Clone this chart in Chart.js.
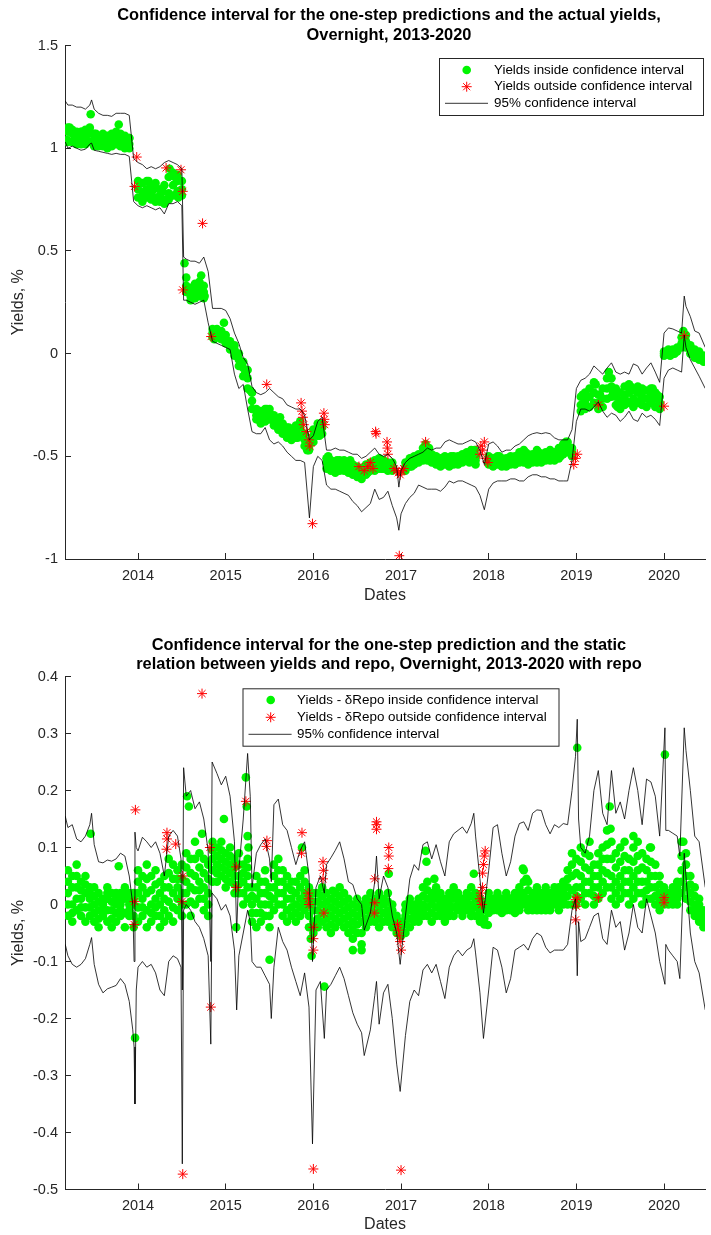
<!DOCTYPE html>
<html>
<head>
<meta charset="utf-8">
<script src="https://cdn.jsdelivr.net/npm/chart.js@4.4.1/dist/chart.umd.min.js"></script>
<style>
  body { margin: 0; background: #fff; width: 711px; height: 1235px; overflow: hidden; }
  canvas { position: absolute; left: 0; }
</style>
</head>
<body>
<canvas id="topChart" width="711" height="615" style="top:0"></canvas>
<canvas id="bottomChart" width="711" height="620" style="top:615px"></canvas>
<script>
// ---- shared x grid (decimal years) for the yield markers ----
const gridYears = [
  2013.20, 2013.25, 2013.30, 2013.35, 2013.40, 2013.45, 2013.50, 2013.55, 2013.60, 2013.65, 2013.70, 2013.75, 2013.80, 2013.85, 2013.90, 2013.95,
  2014.00, 2014.05, 2014.10, 2014.15, 2014.20, 2014.25, 2014.30, 2014.35, 2014.40, 2014.45, 2014.50, 2014.55, 2014.60, 2014.65, 2014.70, 2014.75, 2014.80, 2014.85, 2014.90, 2014.95,
  2015.00, 2015.05, 2015.10, 2015.15, 2015.20, 2015.25, 2015.30, 2015.35, 2015.40, 2015.45, 2015.50, 2015.55, 2015.60, 2015.65, 2015.70, 2015.75, 2015.80, 2015.85, 2015.90, 2015.95,
  2016.00, 2016.05, 2016.10, 2016.15, 2016.20, 2016.25, 2016.30, 2016.35, 2016.40, 2016.45, 2016.50, 2016.55, 2016.60, 2016.65, 2016.70, 2016.75, 2016.80, 2016.85, 2016.90, 2016.95,
  2017.00, 2017.05, 2017.10, 2017.15, 2017.20, 2017.25, 2017.30, 2017.35, 2017.40, 2017.45, 2017.50, 2017.55, 2017.60, 2017.65, 2017.70, 2017.75, 2017.80, 2017.85, 2017.90, 2017.95,
  2018.00, 2018.05, 2018.10, 2018.15, 2018.20, 2018.25, 2018.30, 2018.35, 2018.40, 2018.45, 2018.50, 2018.55, 2018.60, 2018.65, 2018.70, 2018.75, 2018.80, 2018.85, 2018.90, 2018.95,
  2019.00, 2019.05, 2019.10, 2019.15, 2019.20, 2019.25, 2019.30, 2019.35, 2019.40, 2019.45, 2019.50, 2019.55, 2019.60, 2019.65, 2019.70, 2019.75, 2019.80, 2019.85, 2019.90, 2019.95,
  2020.00, 2020.05, 2020.10, 2020.15, 2020.20, 2020.25, 2020.30, 2020.35, 2020.40, 2020.45
];
const yearTicks = [2014, 2015, 2016, 2017, 2018, 2019, 2020];

// ---- top chart: actual yields (three rows of dots give the band its width) ----
const insideTop = [
  1.08, 1.07, 1.06, 1.05, 1.06, 1.07, 1.04, 1.03, 1.04, 1.03, 1.04, 1.05, 1.04, 1.03, 1.02, null,
  0.80, 0.77, 0.80, 0.78, 0.76, 0.77, 0.75, 0.78, 0.82, 0.84, 0.80, 0.33, 0.28, 0.30, 0.31, 0.30, null, 0.10, 0.11, 0.09,
  0.07, 0.04, 0.02, -0.03, -0.07, -0.12, -0.23, -0.30, -0.32, -0.30, -0.29, -0.33, -0.35, -0.37, -0.39, -0.40, -0.38, -0.36, -0.42, -0.46,
  -0.40, -0.37, -0.36, -0.53, -0.55, -0.55, -0.55, -0.54, -0.55, -0.57, -0.58, -0.59, -0.56, -0.55, -0.55, -0.53, -0.54, -0.55, -0.55, null,
  null, -0.55, -0.53, -0.52, -0.51, -0.49, -0.50, -0.51, -0.52, -0.53, -0.52, -0.53, -0.52, -0.52, -0.51, -0.50, -0.49, -0.52, null, null,
  -0.52, -0.53, -0.52, -0.53, -0.53, -0.52, -0.52, -0.51, -0.50, -0.52, -0.51, -0.50, -0.51, -0.50, -0.49, -0.50, -0.48, -0.46, -0.45, -0.48,
  null, -0.25, -0.23, -0.21, -0.19, -0.24, -0.22, -0.17, -0.16, -0.21, -0.23, -0.20, -0.19, -0.22, -0.19, -0.21, -0.22, -0.20, -0.22, -0.24,
  0.00, 0.01, 0.01, 0.02, 0.05, 0.06, 0.02, 0.00, -0.01, -0.03
];
const insideHighTop = [
  1.10, 1.09, 1.08, 1.08, 1.09, 1.10, 1.07, 1.06, 1.07, 1.06, 1.07, 1.08, 1.07, 1.06, 1.05, null,
  0.84, 0.83, 0.84, 0.82, 0.83, 0.80, 0.82, 0.86, 0.88, 0.87, 0.84, 0.37, 0.32, 0.34, 0.35, 0.33, null, 0.12, 0.12, 0.11,
  0.09, 0.06, 0.04, 0.00, -0.04, -0.08, -0.19, -0.27, -0.28, -0.27, -0.27, -0.30, -0.32, -0.34, -0.36, -0.37, -0.35, -0.33, -0.39, -0.43,
  -0.37, -0.34, -0.34, -0.51, -0.52, -0.53, -0.52, -0.52, -0.53, -0.54, -0.55, -0.56, -0.54, -0.53, -0.52, -0.51, -0.52, -0.53, -0.53, null,
  null, -0.53, -0.51, -0.50, -0.49, -0.46, -0.48, -0.49, -0.50, -0.51, -0.50, -0.51, -0.50, -0.50, -0.49, -0.48, -0.47, -0.50, null, null,
  -0.50, -0.51, -0.50, -0.51, -0.51, -0.50, -0.50, -0.48, -0.47, -0.49, -0.49, -0.47, -0.49, -0.48, -0.47, -0.48, -0.46, -0.44, -0.43, -0.46,
  null, -0.21, -0.19, -0.17, -0.14, -0.20, -0.17, -0.12, -0.12, -0.17, -0.19, -0.16, -0.15, -0.18, -0.16, -0.17, -0.18, -0.17, -0.19, -0.21,
  0.01, 0.02, 0.02, 0.03, 0.08, 0.09, 0.04, 0.02, 0.01, -0.01
];
const insideLowTop = [
  1.03, 1.03, 1.02, 1.02, 1.02, 1.03, 1.01, 1.01, 1.01, 1.00, 1.01, 1.02, 1.01, 1.00, 1.00, null,
  0.76, 0.74, 0.76, 0.75, 0.74, 0.74, 0.73, 0.75, 0.77, 0.79, 0.77, 0.30, 0.26, 0.27, 0.28, 0.27, null, 0.08, 0.09, 0.07,
  0.05, 0.02, -0.01, -0.06, -0.11, -0.17, -0.27, -0.32, -0.34, -0.33, -0.32, -0.35, -0.37, -0.39, -0.41, -0.42, -0.41, -0.40, -0.45, -0.47,
  -0.43, -0.40, -0.39, -0.56, -0.57, -0.58, -0.57, -0.57, -0.58, -0.59, -0.60, -0.61, -0.59, -0.57, -0.57, -0.56, -0.56, -0.57, -0.57, null,
  null, -0.57, -0.55, -0.54, -0.53, -0.52, -0.52, -0.53, -0.54, -0.55, -0.54, -0.55, -0.54, -0.54, -0.53, -0.52, -0.52, -0.54, null, null,
  -0.54, -0.55, -0.54, -0.55, -0.55, -0.54, -0.54, -0.53, -0.53, -0.54, -0.53, -0.53, -0.53, -0.52, -0.52, -0.52, -0.51, -0.49, -0.48, -0.50,
  null, -0.28, -0.27, -0.26, -0.24, -0.27, -0.26, -0.22, -0.21, -0.25, -0.27, -0.25, -0.24, -0.26, -0.24, -0.25, -0.26, -0.24, -0.26, -0.27,
  -0.01, 0.00, 0.00, 0.01, 0.03, 0.03, 0.00, -0.02, -0.03, -0.04
];
const extraYearsTop = [2013.19, 2013.22, 2013.28, 2013.36, 2013.46, 2013.52, 2013.62, 2013.72, 2013.78, 2013.82, 2013.90,
  2014.03, 2014.08, 2014.12, 2014.18, 2014.28, 2014.36, 2014.42, 2014.46, 2014.53, 2014.58, 2014.68, 2014.72, 2014.76, 2014.87, 2014.98,
  2015.12, 2015.22, 2015.28, 2015.38, 2015.47, 2015.52, 2015.62, 2015.72, 2015.82, 2015.93,
  2016.07, 2016.17, 2016.27, 2016.42, 2016.52, 2016.62, 2016.78, 2017.12, 2017.28, 2017.32, 2017.57, 2017.78, 2017.84,
  2018.12, 2018.42, 2018.57, 2018.72, 2018.82, 2018.88, 2018.93,
  2019.07, 2019.12, 2019.22, 2019.27, 2019.37, 2019.42, 2019.47, 2019.57, 2019.62, 2019.72, 2019.77, 2019.87, 2019.92,
  2020.07, 2020.12, 2020.22, 2020.27, 2020.37, 2020.42];
const extraTop = [1.04, 1.10, 1.05, 1.08, 1.165, 1.07, 1.06, 1.02, 1.115, 1.06, 1.05,
  0.83, 0.79, 0.84, 0.80, 0.79, 0.90, 0.86, 0.76, 0.44, 0.31, 0.33, 0.38, 0.28, 0.07, 0.15,
  0.00, -0.10, -0.18, -0.28, -0.27, -0.32, -0.31, -0.36, -0.41, -0.47,
  -0.40, -0.50, -0.52, -0.52, -0.60, -0.58, -0.56, -0.55, -0.44, -0.46, -0.50, -0.53, -0.47,
  -0.50, -0.48, -0.48, -0.51, -0.50, -0.43, -0.46,
  -0.20, -0.26, -0.15, -0.20, -0.09, -0.19, -0.26, -0.23, -0.16, -0.23, -0.18, -0.17, -0.20,
  -0.01, 0.00, 0.11, 0.04, -0.02, -0.02];
const outsideYearsTop = [2013.985, 2013.96, 2014.32, 2014.49, 2014.51, 2014.51, 2014.736, 2014.834, 2015.468,
  2015.86, 2015.87, 2015.88, 2015.89, 2015.92, 2015.95, 2015.96, 2015.99, 2016.12, 2016.125, 2016.13,
  2016.52, 2016.58, 2016.62, 2016.65, 2016.68, 2016.71, 2016.715, 2016.84, 2016.845, 2016.85,
  2016.92, 2016.95, 2016.97, 2016.99, 2017.01, 2017.03, 2016.98, 2017.28,
  2017.90, 2017.91, 2017.93, 2017.95, 2017.97, 2017.99, 2018.97, 2018.99, 2019.01, 2019.25, 2020.00, 2020.23];
const outsideTop = [0.957, 0.814, 0.904, 0.895, 0.79, 0.31, 0.634, 0.083, -0.15,
  -0.24, -0.28, -0.31, -0.346, -0.38, -0.42, -0.45, -0.828, -0.29, -0.32, -0.346,
  -0.55, -0.57, -0.55, -0.53, -0.56, -0.38, -0.39, -0.43, -0.46, -0.49,
  -0.56, -0.57, -0.58, -0.59, -0.57, -0.56, -0.984, -0.43,
  -0.49, -0.45, -0.47, -0.43, -0.51, -0.53, -0.54, -0.51, -0.49, -0.25, -0.256, 0.087];
const bandYearsTop = [
  2013.17, 2013.20, 2013.25, 2013.30, 2013.35, 2013.40, 2013.45, 2013.47, 2013.50, 2013.55, 2013.60, 2013.65, 2013.70, 2013.75, 2013.80, 2013.85, 2013.90, 2013.95,
  2014.00, 2014.05, 2014.10, 2014.15, 2014.20, 2014.25, 2014.30, 2014.35, 2014.40, 2014.45, 2014.50, 2014.52, 2014.55, 2014.60, 2014.65, 2014.70, 2014.75, 2014.80, 2014.85, 2014.90, 2014.95,
  2015.00, 2015.05, 2015.10, 2015.15, 2015.20, 2015.25, 2015.30, 2015.35, 2015.40, 2015.45, 2015.50, 2015.55, 2015.60, 2015.65, 2015.70, 2015.75, 2015.80, 2015.85, 2015.90, 2015.955,
  2016.00, 2016.05, 2016.10, 2016.15, 2016.20, 2016.25, 2016.30, 2016.35, 2016.40, 2016.45, 2016.50, 2016.55, 2016.60, 2016.65, 2016.70, 2016.75, 2016.80, 2016.85, 2016.90, 2016.95, 2016.975,
  2017.00, 2017.05, 2017.10, 2017.15, 2017.20, 2017.25, 2017.30, 2017.35, 2017.40, 2017.45, 2017.50, 2017.55, 2017.60, 2017.65, 2017.70, 2017.75, 2017.80, 2017.85, 2017.90, 2017.95,
  2018.00, 2018.05, 2018.10, 2018.15, 2018.20, 2018.25, 2018.30, 2018.35, 2018.40, 2018.45, 2018.50, 2018.55, 2018.60, 2018.65, 2018.70, 2018.75, 2018.80, 2018.85, 2018.90, 2018.95,
  2019.00, 2019.05, 2019.10, 2019.15, 2019.20, 2019.25, 2019.30, 2019.35, 2019.40, 2019.45, 2019.50, 2019.55, 2019.60, 2019.65, 2019.70, 2019.75, 2019.80, 2019.85, 2019.90, 2019.95,
  2020.00, 2020.05, 2020.10, 2020.15, 2020.20, 2020.23, 2020.25, 2020.30, 2020.35, 2020.40, 2020.47
];
const upperTop = [
  1.23, 1.21, 1.21, 1.20, 1.20, 1.19, 1.21, 1.235, 1.19, 1.17, 1.16, 1.16, 1.155, 1.17, 1.17, 1.17, 1.16, 0.95,
  0.93, 0.92, 0.90, 0.91, 0.90, 0.91, 0.93, 0.94, 0.93, 0.92, 0.90, 0.47, 0.46, 0.45, 0.45, 0.44, 0.47, 0.40, 0.22, 0.22, 0.22,
  0.21, 0.17, 0.10, 0.05, -0.02, -0.05, -0.16, -0.19, -0.20, -0.19, -0.17, -0.19, -0.21, -0.22, -0.25, -0.26, -0.27, -0.27, -0.30, -0.42,
  -0.40, -0.33, -0.31, -0.47, -0.47, -0.46, -0.47, -0.47, -0.48, -0.49, -0.49, -0.51, -0.50, -0.48, -0.46, -0.49, -0.50, -0.49, -0.51, -0.55, -0.65,
  -0.57, -0.53, -0.51, -0.50, -0.49, -0.48, -0.46, -0.47, -0.46, -0.46, -0.43, -0.42, -0.43, -0.44, -0.44, -0.43, -0.42, -0.43, -0.47, -0.54,
  -0.44, -0.43, -0.45, -0.48, -0.47, -0.47, -0.45, -0.44, -0.42, -0.40, -0.39, -0.385, -0.39, -0.385, -0.39, -0.41, -0.42, -0.42, -0.42, -0.37,
  -0.17, -0.13, -0.12, -0.10, -0.06, -0.08, -0.10, -0.07, -0.045, -0.09, -0.10, -0.09, -0.10, -0.05, -0.06, -0.10, -0.07, -0.045, -0.09, -0.14,
  0.10, 0.125, 0.12, 0.11, 0.10, 0.28, 0.23, 0.18, 0.11, 0.10, 0.03
];
const lowerTop = [
  1.03, 1.00, 1.01, 1.00, 0.99, 0.995, 1.02, 1.025, 0.99, 0.985, 0.98, 0.975, 0.97, 0.975, 0.97, 0.97, 0.96, 0.74,
  0.72, 0.71, 0.72, 0.71, 0.70, 0.71, 0.68, 0.73, 0.73, 0.74, 0.72, 0.26, 0.26, 0.25, 0.24, 0.25, 0.26, 0.15, 0.06, 0.05, 0.04,
  0.03, 0.02, -0.10, -0.17, -0.15, -0.27, -0.38, -0.39, -0.39, -0.36, -0.42, -0.44, -0.43, -0.45, -0.48, -0.50, -0.52, -0.52, -0.53, -0.80,
  -0.55, -0.50, -0.52, -0.64, -0.66, -0.66, -0.67, -0.68, -0.69, -0.72, -0.74, -0.77, -0.75, -0.73, -0.66, -0.71, -0.70, -0.67, -0.74, -0.80, -0.86,
  -0.78, -0.73, -0.70, -0.68, -0.64, -0.65, -0.66, -0.66, -0.66, -0.67, -0.65, -0.62, -0.63, -0.62, -0.62, -0.63, -0.64, -0.65, -0.69, -0.76,
  -0.66, -0.63, -0.62, -0.62, -0.62, -0.61, -0.61, -0.62, -0.62, -0.60, -0.59, -0.59, -0.60, -0.60, -0.61, -0.61, -0.62, -0.62, -0.62, -0.52,
  -0.33, -0.27, -0.27, -0.28, -0.26, -0.235, -0.28, -0.31, -0.29, -0.30, -0.33, -0.31, -0.28, -0.32, -0.33, -0.29, -0.31, -0.30, -0.32, -0.35,
  -0.12, -0.08, -0.07, -0.08, -0.09, 0.09, 0.03, -0.03, -0.07, -0.11, -0.17
];

// ---- bottom chart: yields minus delta repo (five rows of dots make the cloud) ----
const insideHighBottom = [
  0.06, 0.05, 0.07, 0.04, 0.05, 0.03, 0.03, 0.02, 0.01, 0.03, 0.02, 0.02, 0.02, 0.03, 0.02, 0.02,
  0.06, 0.05, 0.07, 0.05, 0.06, 0.04, 0.05, 0.08, 0.07, 0.06, 0.07, 0.09, 0.08, 0.11, 0.09, 0.08, 0.07, 0.11, 0.10, 0.11,
  0.09, 0.10, 0.08, 0.09, 0.07, 0.08, 0.03, 0.05, 0.04, 0.06, 0.03, 0.07, 0.08, 0.06, 0.05, 0.04, 0.04, 0.05, 0.06, 0.03,
  0.02, 0.02, 0.03, 0.02, 0.01, 0.02, 0.03, 0.02, 0.01, 0.00, 0.01, 0.00, 0.01, 0.02, 0.01, 0.02, 0.01, 0.02, 0.00, -0.02,
  -0.03, 0.00, 0.01, 0.00, 0.01, 0.03, 0.04, 0.02, 0.03, 0.02, 0.01, 0.02, 0.03, 0.02, 0.01, 0.02, 0.03, 0.02, 0.01, 0.00,
  0.02, 0.01, 0.02, 0.01, 0.02, 0.01, 0.02, 0.03, 0.06, 0.04, 0.02, 0.03, 0.02, 0.03, 0.02, 0.03, 0.03, 0.04, 0.06, 0.09,
  0.08, 0.10, 0.09, 0.11, 0.07, 0.09, 0.10, 0.13, 0.11, 0.09, 0.10, 0.11, 0.08, 0.10, 0.11, 0.09, 0.08, 0.10, 0.07, 0.05,
  0.03, 0.02, 0.03, 0.04, 0.11, 0.09, 0.05, 0.03, 0.01, -0.01
];
const insideUpperBottom = [
  0.04, 0.03, 0.05, 0.025, 0.035, 0.02, 0.015, 0.005, 0.005, 0.02, 0.005, 0.01, 0.01, 0.02, 0.01, 0.01,
  0.04, 0.03, 0.045, 0.025, 0.035, 0.02, 0.03, 0.055, 0.045, 0.045, 0.045, 0.065, 0.055, 0.08, 0.065, 0.055, 0.045, 0.095, 0.085, 0.095,
  0.075, 0.085, 0.065, 0.07, 0.055, 0.065, 0.015, 0.03, 0.02, 0.04, 0.015, 0.05, 0.06, 0.04, 0.03, 0.025, 0.02, 0.03, 0.04, 0.015,
  0.005, 0.005, 0.015, 0.005, -0.005, 0.005, 0.015, 0.005, -0.005, -0.015, -0.005, -0.015, 0.0, 0.005, 0.005, 0.005, 0.005, 0.005, -0.01, -0.028,
  -0.038, -0.01, 0.0, -0.01, 0.0, 0.015, 0.025, 0.01, 0.02, 0.01, 0.0, 0.01, 0.02, 0.01, 0.005, 0.015, 0.015, 0.015, 0.0, -0.005,
  0.01, 0.005, 0.015, 0.005, 0.01, 0.01, 0.01, 0.02, 0.04, 0.025, 0.01, 0.02, 0.01, 0.02, 0.01, 0.02, 0.02, 0.03, 0.045, 0.07,
  0.055, 0.075, 0.065, 0.085, 0.05, 0.07, 0.08, 0.105, 0.08, 0.065, 0.075, 0.085, 0.06, 0.075, 0.085, 0.065, 0.06, 0.075, 0.05, 0.035,
  0.02, 0.015, 0.02, 0.03, 0.085, 0.07, 0.035, 0.015, 0.0, -0.02
];
const insideMidBottom = [
  0.02, 0.00, 0.03, 0.01, 0.02, 0.01, 0.00, -0.01, 0.00, 0.01, -0.01, 0.00, 0.00, 0.01, 0.00, 0.00,
  0.02, 0.01, 0.02, 0.00, 0.01, 0.00, 0.01, 0.03, 0.02, 0.03, 0.02, 0.04, 0.03, 0.05, 0.04, 0.03, 0.02, 0.08, 0.07, 0.08,
  0.06, 0.07, 0.05, 0.05, 0.04, 0.05, 0.00, 0.01, 0.00, 0.02, 0.00, 0.03, 0.04, 0.02, 0.01, 0.01, 0.00, 0.01, 0.02, 0.00,
  -0.01, -0.01, 0.00, -0.01, -0.02, -0.01, 0.00, -0.01, -0.02, -0.03, -0.02, -0.03, -0.01, -0.01, 0.00, -0.01, 0.00, -0.01, -0.02, -0.035,
  -0.045, -0.02, -0.01, -0.02, -0.01, 0.00, 0.01, 0.00, 0.01, 0.00, -0.01, 0.00, 0.01, 0.00, 0.00, 0.01, 0.00, 0.01, -0.01, -0.01,
  0.00, 0.00, 0.01, 0.00, 0.00, 0.01, 0.00, 0.01, 0.02, 0.01, 0.00, 0.01, 0.00, 0.01, 0.00, 0.01, 0.01, 0.02, 0.03, 0.05,
  0.03, 0.05, 0.04, 0.06, 0.03, 0.05, 0.06, 0.08, 0.05, 0.04, 0.05, 0.06, 0.04, 0.05, 0.06, 0.04, 0.04, 0.05, 0.03, 0.02,
  0.01, 0.01, 0.01, 0.02, 0.06, 0.05, 0.02, 0.00, -0.01, -0.03
];
const insideLowerBottom = [
  0.0, -0.015, 0.01, -0.005, -0.005, -0.005, -0.015, -0.025, -0.01, -0.01, -0.025, -0.015, -0.01, -0.015, -0.01, -0.02,
  -0.005, -0.005, -0.01, -0.015, -0.005, -0.02, -0.01, 0.005, -0.005, 0.01, 0.0, 0.02, 0.005, 0.025, 0.025, 0.01, 0.0, 0.06, 0.055, 0.065,
  0.045, 0.055, 0.035, 0.035, 0.02, 0.03, -0.015, -0.015, -0.015, 0.0, -0.02, 0.01, 0.02, 0.0, -0.01, -0.005, -0.015, -0.005, 0.005, -0.02,
  -0.03, -0.025, -0.015, -0.025, -0.035, -0.025, -0.015, -0.025, -0.035, -0.045, -0.035, -0.05, -0.025, -0.02, -0.015, -0.025, -0.015, -0.02, -0.03, -0.042,
  -0.05, -0.035, -0.025, -0.025, -0.02, -0.01, -0.005, -0.015, -0.005, -0.01, -0.02, -0.01, -0.005, -0.005, -0.01, 0.0, -0.01, -0.005, -0.02, -0.025,
  -0.008, -0.005, 0.0, -0.008, -0.005, 0.0, -0.008, 0.0, 0.01, 0.0, -0.005, 0.0, -0.005, 0.0, -0.005, 0.005, 0.0, 0.01, 0.015, 0.025,
  0.015, 0.03, 0.02, 0.04, 0.015, 0.03, 0.04, 0.055, 0.03, 0.02, 0.03, 0.04, 0.02, 0.03, 0.04, 0.02, 0.025, 0.03, 0.015, 0.005,
  0.005, 0.005, 0.005, 0.01, 0.04, 0.03, 0.005, -0.01, -0.02, -0.035
];
const insideLowBottom = [
  -0.02, -0.03, -0.01, -0.02, -0.03, -0.02, -0.03, -0.04, -0.02, -0.03, -0.04, -0.03, -0.02, -0.04, -0.02, -0.04,
  -0.03, -0.02, -0.04, -0.03, -0.02, -0.04, -0.03, -0.02, -0.03, -0.01, -0.02, 0.00, -0.02, 0.00, 0.01, -0.01, -0.02, 0.04, 0.04, 0.05,
  0.03, 0.04, 0.02, 0.02, 0.00, 0.01, -0.03, -0.04, -0.03, -0.02, -0.04, -0.01, 0.00, -0.02, -0.03, -0.02, -0.03, -0.02, -0.01, -0.04,
  -0.05, -0.04, -0.03, -0.04, -0.05, -0.04, -0.03, -0.04, -0.05, -0.06, -0.05, -0.07, -0.04, -0.03, -0.03, -0.04, -0.03, -0.03, -0.04, -0.05,
  -0.055, -0.05, -0.04, -0.03, -0.03, -0.02, -0.02, -0.03, -0.02, -0.02, -0.03, -0.02, -0.02, -0.01, -0.02, -0.01, -0.02, -0.02, -0.03, -0.035,
  -0.015, -0.01, -0.01, -0.015, -0.01, -0.01, -0.015, -0.01, 0.00, -0.01, -0.01, -0.01, -0.01, -0.01, -0.01, 0.00, -0.01, 0.00, 0.00, 0.00,
  0.00, 0.01, 0.00, 0.02, 0.00, 0.01, 0.02, 0.03, 0.01, 0.00, 0.01, 0.02, 0.00, 0.01, 0.02, 0.00, 0.01, 0.01, 0.00, -0.01,
  0.00, 0.00, 0.00, 0.00, 0.02, 0.01, -0.01, -0.02, -0.03, -0.04
];
const extraYearsBottom = [2013.46, 2013.78, 2013.966, 2014.56, 2014.58, 2014.73, 2014.98, 2015.23, 2015.24, 2015.25, 2015.26,
  2015.12, 2015.50, 2015.87, 2015.97, 2015.98, 2016.125, 2016.22, 2016.45, 2016.55, 2016.86, 2017.28, 2017.29, 2017.38,
  2017.83, 2017.99, 2018.39, 2018.43, 2019.01, 2019.38, 2019.39, 2019.65, 2019.84, 2020.01, 2020.22];
const extraBottom = [0.124, 0.067, -0.234, 0.19, 0.172, 0.124, 0.15, 0.223, 0.172, 0.12, 0.10,
  -0.04, -0.097, 0.10, -0.06, -0.09, -0.144, 0.024, -0.08, -0.08, 0.054, 0.094, 0.075, 0.045,
  0.054, -0.036, 0.063, 0.045, 0.275, 0.172, 0.133, 0.12, 0.10, 0.263, 0.11];
const outsideYearsBottom = [2013.97, 2013.96, 2013.955, 2014.33, 2014.33, 2014.325, 2014.43, 2014.50, 2014.51, 2014.51,
  2014.73, 2014.82, 2014.83, 2015.12, 2015.12, 2015.23, 2015.47, 2015.465, 2015.87, 2015.865,
  2015.94, 2015.945, 2015.95, 2016.00, 2016.00, 2016.00, 2016.00, 2016.11, 2016.115, 2016.11, 2016.12,
  2016.70, 2016.70, 2016.695, 2016.72, 2016.72, 2016.72, 2016.86, 2016.86, 2016.855,
  2016.96, 2016.97, 2016.98, 2016.99, 2017.00, 2017.00,
  2017.90, 2017.91, 2017.92, 2017.93, 2017.94, 2017.95, 2017.96, 2017.93,
  2018.99, 2019.00, 2018.99, 2019.01, 2019.25, 2020.00, 2020.00];
const outsideBottom = [0.166, 0.005, -0.035, 0.126, 0.115, 0.097, 0.106, 0.005, 0.05, -0.473,
  0.37, 0.10, -0.18, 0.066, 0.03, 0.181, 0.112, 0.102, 0.126, 0.09,
  0.02, 0.01, 0.00, -0.04, -0.06, -0.08, -0.464, 0.075, 0.06, 0.045, -0.015,
  0.045, 0.003, -0.015, 0.145, 0.14, 0.132, 0.10, 0.085, 0.063,
  -0.035, -0.045, -0.055, -0.065, -0.08, -0.466,
  0.01, 0.02, 0.00, 0.055, 0.07, 0.085, 0.094, 0.03,
  0.009, -0.003, -0.027, 0.012, 0.012, 0.012, 0.003];
const bandYearsBottom = [
  2013.17, 2013.20, 2013.25, 2013.30, 2013.35, 2013.40, 2013.45, 2013.47, 2013.50, 2013.55, 2013.60, 2013.65, 2013.70, 2013.75, 2013.80, 2013.85, 2013.90, 2013.94, 2013.955, 2013.965, 2013.98,
  2014.00, 2014.05, 2014.10, 2014.15, 2014.20, 2014.25, 2014.30, 2014.35, 2014.40, 2014.45, 2014.49, 2014.505, 2014.52, 2014.55, 2014.60, 2014.65, 2014.70, 2014.75, 2014.80, 2014.83, 2014.845, 2014.90, 2014.95,
  2015.00, 2015.05, 2015.10, 2015.125, 2015.15, 2015.20, 2015.25, 2015.28, 2015.30, 2015.35, 2015.40, 2015.45, 2015.50, 2015.52, 2015.55, 2015.60, 2015.65, 2015.70, 2015.75, 2015.80, 2015.85, 2015.90, 2015.95, 2015.99,
  2016.03, 2016.08, 2016.125, 2016.15, 2016.20, 2016.25, 2016.30, 2016.35, 2016.40, 2016.45, 2016.50, 2016.55, 2016.58, 2016.65, 2016.70, 2016.72, 2016.75, 2016.80, 2016.85, 2016.90, 2016.95, 2016.99,
  2017.05, 2017.10, 2017.15, 2017.20, 2017.25, 2017.30, 2017.35, 2017.40, 2017.45, 2017.50, 2017.55, 2017.60, 2017.65, 2017.70, 2017.75, 2017.80, 2017.83, 2017.85, 2017.90, 2017.94,
  2018.00, 2018.05, 2018.10, 2018.15, 2018.20, 2018.25, 2018.30, 2018.35, 2018.40, 2018.45, 2018.50, 2018.55, 2018.60, 2018.65, 2018.70, 2018.75, 2018.80, 2018.85, 2018.90, 2018.95, 2018.99,
  2019.01, 2019.025, 2019.05, 2019.10, 2019.15, 2019.20, 2019.25, 2019.30, 2019.35, 2019.40, 2019.45, 2019.50, 2019.55, 2019.60, 2019.65, 2019.70, 2019.75, 2019.80, 2019.85, 2019.90, 2019.95,
  2020.01, 2020.02, 2020.05, 2020.10, 2020.15, 2020.18, 2020.23, 2020.25, 2020.30, 2020.35, 2020.40, 2020.47
];
const upperBottom = [
  0.155, 0.135, 0.14, 0.115, 0.11, 0.12, 0.14, 0.16, 0.105, 0.075, 0.073, 0.078, 0.076, 0.08, 0.09, 0.085, 0.05, 0.00, -0.10, 0.127, 0.10,
  0.094, 0.118, 0.11, 0.10, 0.11, 0.09, 0.05, 0.12, 0.13, 0.12, 0.08, -0.15, 0.24, 0.19, 0.20, 0.168, 0.18, 0.15, 0.094, -0.10, 0.25, 0.23, 0.21,
  0.225, 0.19, 0.11, -0.05, 0.06, 0.15, 0.265, 0.19, 0.03, 0.09, 0.105, 0.115, 0.08, 0.04, 0.175, 0.185, 0.14, 0.13, 0.10, 0.07, 0.095, 0.11, 0.05, -0.10,
  0.03, 0.05, 0.02, 0.07, 0.082, 0.095, 0.11, 0.08, 0.04, 0.035, 0.01, 0.00, -0.045, -0.015, 0.04, 0.085, 0.01, 0.05, 0.03, -0.02, -0.05, -0.105,
  -0.02, 0.045, 0.07, 0.06, 0.105, 0.11, 0.08, 0.105, 0.075, 0.05, 0.11, 0.124, 0.13, 0.136, 0.125, 0.142, 0.16, 0.12, 0.045, -0.015,
  0.06, 0.135, 0.14, 0.09, 0.05, 0.075, 0.12, 0.142, 0.145, 0.13, 0.16, 0.166, 0.165, 0.14, 0.124, 0.14, 0.135, 0.142, 0.14, 0.20, 0.26,
  0.325, 0.15, 0.10, 0.09, 0.12, 0.20, 0.235, 0.16, 0.14, 0.235, 0.16, 0.18, 0.15, 0.20, 0.24, 0.20, 0.14, 0.22, 0.215, 0.19, 0.12,
  0.31, 0.13, 0.13, 0.125, 0.12, 0.085, 0.31, 0.27, 0.20, 0.12, 0.11, 0.03
];
const lowerBottom = [
  -0.07, -0.09, -0.105, -0.11, -0.105, -0.095, -0.07, -0.058, -0.105, -0.14, -0.155, -0.148, -0.145, -0.142, -0.13, -0.14, -0.17, -0.22, -0.25, -0.35, -0.15,
  -0.11, -0.10, -0.11, -0.105, -0.12, -0.15, -0.16, -0.10, -0.09, -0.095, -0.11, -0.455, -0.01, 0.00, -0.01, -0.03, -0.04, -0.06, -0.09, -0.245, 0.02, 0.01, -0.01,
  0.00, -0.02, -0.08, -0.185, -0.09, -0.05, -0.01, -0.03, -0.10, -0.11, -0.11, -0.125, -0.14, -0.20, -0.11, -0.04, -0.065, -0.08, -0.11, -0.135, -0.16, -0.12, -0.18, -0.42,
  -0.15, -0.135, -0.235, -0.15, -0.14, -0.125, -0.11, -0.13, -0.16, -0.19, -0.21, -0.225, -0.265, -0.22, -0.16, -0.135, -0.21, -0.155, -0.14, -0.20, -0.28, -0.328,
  -0.23, -0.17, -0.15, -0.16, -0.115, -0.105, -0.12, -0.105, -0.135, -0.165, -0.11, -0.09, -0.08, -0.09, -0.08, -0.075, -0.06, -0.085, -0.155, -0.235,
  -0.15, -0.075, -0.08, -0.11, -0.155, -0.13, -0.08, -0.075, -0.07, -0.08, -0.06, -0.05, -0.055, -0.075, -0.085, -0.08, -0.08, -0.08, -0.07, -0.01, 0.01,
  -0.125, -0.03, -0.065, -0.06, -0.04, -0.02, -0.015, -0.06, -0.07, -0.01, -0.04, -0.03, -0.08, -0.05, 0.00, -0.04, -0.05, 0.01, -0.02, -0.05, -0.10,
  -0.14, -0.07, -0.08, -0.09, -0.10, -0.13, 0.09, 0.05, -0.05, -0.10, -0.12, -0.185
];

const FONT = "'Liberation Sans', Arial, Helvetica, sans-serif";
const AXIS = '#262626';
const GREEN = 'rgb(0,245,0)';
const RED = '#ff0000';

const toPoints = (xs, ys) => xs.map((x, i) => ({ x: x, y: ys[i] }));

// titles, axis names and the boxed legend, drawn at the spots MATLAB put them
function decor(cfg) {
  return {
    id: 'decor',
    afterDraw(chart) {
      const ctx = chart.ctx, a = chart.chartArea;
      ctx.save();
      ctx.textAlign = 'center';
      ctx.textBaseline = 'middle';
      ctx.fillStyle = '#000';
      ctx.font = 'bold 16.4px ' + FONT;
      cfg.title.forEach((t, i) => ctx.fillText(t, cfg.titleX, cfg.titleY[i]));
      ctx.fillStyle = AXIS;
      ctx.font = '16px ' + FONT;
      ctx.fillText('Dates', (a.left + a.right) / 2, cfg.datesY);
      ctx.translate(19, (a.top + a.bottom) / 2);
      ctx.rotate(-Math.PI / 2);
      ctx.fillText('Yields, %', 0, 0);
      ctx.restore();

      const L = cfg.legend;
      ctx.save();
      ctx.fillStyle = '#fff';
      ctx.fillRect(L.x, L.y, L.w, L.h);
      ctx.strokeStyle = AXIS;
      ctx.lineWidth = 1;
      ctx.strokeRect(L.x + 0.5, L.y + 0.5, L.w, L.h);
      ctx.fillStyle = GREEN;
      ctx.beginPath();
      ctx.arc(L.markX, L.rows[0], 4.3, 0, Math.PI * 2);
      ctx.fill();
      ctx.strokeStyle = RED;
      Chart.helpers.drawPoint(ctx, { pointStyle: 'star', radius: 5, borderWidth: 1, rotation: 0 }, L.markX, L.rows[1]);
      ctx.strokeStyle = '#000';
      ctx.lineWidth = 0.8;
      ctx.beginPath();
      ctx.moveTo(L.lineX0, L.rows[2]);
      ctx.lineTo(L.lineX1, L.rows[2]);
      ctx.stroke();
      ctx.fillStyle = '#000';
      ctx.font = '13.4px ' + FONT;
      ctx.textAlign = 'left';
      ctx.textBaseline = 'middle';
      L.labels.forEach((t, i) => ctx.fillText(t, L.textX, L.rows[i]));
      ctx.restore();
    }
  };
}

function makeChart(id, cfg) {
  const tickFont = { family: FONT, size: 14.5 };
  const fmt = v => String(Number(v.toFixed(2)));
  return new Chart(document.getElementById(id), {
    type: 'scatter',
    data: {
      datasets: [
        { type: 'line', data: toPoints(cfg.bandYears, cfg.upper), borderColor: '#000', borderWidth: 0.8, pointRadius: 0, tension: 0, fill: false },
        { type: 'line', data: toPoints(cfg.bandYears, cfg.lower), borderColor: '#000', borderWidth: 0.8, pointRadius: 0, tension: 0, fill: false },
        { data: toPoints(cfg.outsideYears, cfg.outside), pointStyle: 'star', pointRadius: 5, borderColor: RED, borderWidth: 1, backgroundColor: 'transparent' },
        ...cfg.inside.map(s => ({ data: toPoints(s[0], s[1]), pointRadius: 4.3, backgroundColor: GREEN, borderWidth: 0 }))
      ]
    },
    options: {
      responsive: false,
      animation: false,
      events: [],
      layout: { padding: { top: cfg.padTop, left: 0, right: 0, bottom: 0 } },
      plugins: { legend: { display: false }, tooltip: { enabled: false } },
      scales: {
        x: {
          type: 'linear', min: 2013.167, max: 2020.467,
          afterFit(s) { s.height = cfg.xHeight; },
          afterBuildTicks(s) { s.ticks = yearTicks.map(v => ({ value: v })); },
          ticks: { callback: v => String(v), font: tickFont, color: AXIS, padding: 14, maxRotation: 0, autoSkip: false },
          grid: { drawOnChartArea: false, tickLength: -6, color: AXIS, lineWidth: 1 },
          border: { color: AXIS, width: 1 }
        },
        y: {
          min: cfg.yMin, max: cfg.yMax,
          afterFit(s) { s.width = 65; },
          afterBuildTicks(s) { s.ticks = cfg.yTicks.map(v => ({ value: v })); },
          ticks: { callback: fmt, font: tickFont, color: AXIS, padding: 13, autoSkip: false },
          grid: { drawOnChartArea: false, tickLength: -6, color: AXIS, lineWidth: 1 },
          border: { color: AXIS, width: 1 }
        }
      }
    },
    plugins: [decor(cfg)]
  });
}

makeChart('topChart', {
  bandYears: bandYearsTop, upper: upperTop, lower: lowerTop,
  outsideYears: outsideYearsTop, outside: outsideTop,
  inside: [[gridYears, insideHighTop], [gridYears, insideTop], [gridYears, insideLowTop], [extraYearsTop, extraTop]],
  yMin: -1, yMax: 1.5, yTicks: [-1, -0.5, 0, 0.5, 1, 1.5],
  padTop: 45.5, xHeight: 56,
  title: ['Confidence interval for the one-step predictions and the actual yields,', 'Overnight, 2013-2020'],
  titleX: 389, titleY: [15, 35], datesY: 596,
  legend: { x: 439, y: 58, w: 264, h: 57, rows: [70, 86.7, 103.3], markX: 466.7, lineX0: 445, lineX1: 488, textX: 494,
    labels: ['Yields inside confidence interval', 'Yields outside confidence interval', '95% confidence interval'] }
});

makeChart('bottomChart', {
  bandYears: bandYearsBottom, upper: upperBottom, lower: lowerBottom,
  outsideYears: outsideYearsBottom, outside: outsideBottom,
  inside: [[gridYears, insideHighBottom], [gridYears, insideUpperBottom], [gridYears, insideMidBottom],
           [gridYears, insideLowerBottom], [gridYears, insideLowBottom], [extraYearsBottom, extraBottom]],
  yMin: -0.5, yMax: 0.4, yTicks: [-0.5, -0.4, -0.3, -0.2, -0.1, 0, 0.1, 0.2, 0.3, 0.4],
  padTop: 61.5, xHeight: 45.5,
  title: ['Confidence interval for the one-step prediction and the static', 'relation between yields and repo, Overnight, 2013-2020 with repo'],
  titleX: 389, titleY: [30, 49.3], datesY: 610,
  legend: { x: 242.5, y: 73.3, w: 316, h: 57.4, rows: [85, 102.3, 119.3], markX: 270.7, lineX0: 248.5, lineX1: 291.6, textX: 297,
    labels: ['Yields - \u03b4Repo inside confidence interval', 'Yields - \u03b4Repo outside confidence interval', '95% confidence interval'] }
});
</script>
</body>
</html>
